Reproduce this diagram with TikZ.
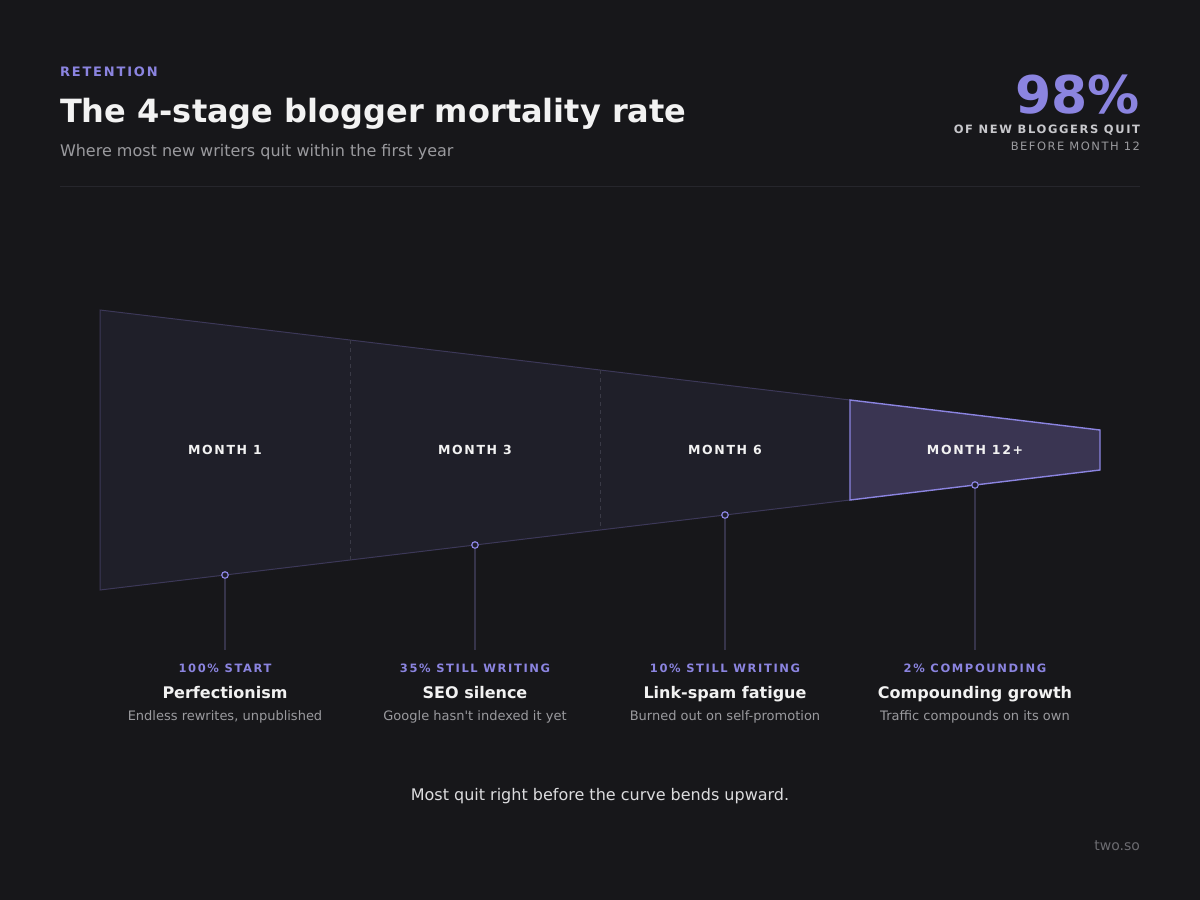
\documentclass[tikz,border=0pt]{standalone}
\usepackage{fontspec}
\setmainfont{DejaVu Sans}[Ligatures=TeXOff]
\newfontfamily\trk[LetterSpace=14,Ligatures=TeXOff]{DejaVu Sans}
\newfontfamily\trka[LetterSpace=14,Ligatures=TeXOff]{DejaVu Sans}
\newfontfamily\trkb[LetterSpace=13,Ligatures=TeXOff]{DejaVu Sans}
\newfontfamily\trkc[LetterSpace=14,Ligatures=TeXOff]{DejaVu Sans}
\newfontfamily\trkd[LetterSpace=13,Ligatures=TeXOff]{DejaVu Sans}
\definecolor{bg}{HTML}{17171A}
\definecolor{accent}{HTML}{8B84E0}
\definecolor{titlec}{HTML}{F2F2F2}
\definecolor{subc}{HTML}{9A9A9E}
\definecolor{lightc}{HTML}{C8C8CC}
\definecolor{rulec}{HTML}{26262C}
\definecolor{funfill}{HTML}{1F1F29}
\definecolor{funline}{HTML}{3C3858}
\definecolor{dashc}{HTML}{3A3A46}
\definecolor{lastfill}{HTML}{3A3552}
\definecolor{stemc}{HTML}{36344A}
\definecolor{capc}{HTML}{DCDCDE}
\definecolor{markc}{HTML}{6B6B70}
\newcommand\myfs[1]{\fontsize{#1}{#1}\selectfont}
\tikzset{
  txt/.style={inner sep=0pt, outer sep=0pt},
  monthlbl/.style={txt, anchor=base, text=titlec, font=\trkb\bfseries\myfs{12.5}},
  pctlbl/.style={txt, anchor=base, text=accent, font=\trka\bfseries\myfs{11.5}},
  stagettl/.style={txt, anchor=base, text=titlec, font=\bfseries\myfs{16}},
  stagesub/.style={txt, anchor=base, text=subc, font=\myfs{13}},
  dot/.style={circle, minimum size=6.5pt, inner sep=0pt, draw=accent, line width=1.2pt, fill=funfill},
  stem/.style={draw=stemc, line width=1.3pt},
  divider/.style={draw=dashc, line width=1pt, dash pattern=on 4pt off 4pt},
}
\begin{document}
\begin{tikzpicture}[x=1pt,y=-1pt]
\fill[bg] (0,0) rectangle (1200,900);
\useasboundingbox (0,0) rectangle (1200,900);

% header
\node[txt, anchor=base west, text=accent, font=\trk\bfseries\myfs{13}] (kicker) at (60,76) {RETENTION};
\node[txt, anchor=base west, text=titlec, font=\bfseries\myfs{32}] (title) at (60,122) {The 4-stage blogger mortality rate};
\node[txt, anchor=base west, text=subc, font=\myfs{16}] (subtitle) at (60,156) {Where most new writers quit within the first year};
\node[txt, anchor=base east, text=accent, font=\bfseries\myfs{52}] (pct) at (1140,113) {98\%};
\node[txt, anchor=base east, text=lightc, font=\trkc\bfseries\myfs{11.5}] (pcta) at (1140,133.3) {OF NEW BLOGGERS QUIT};
\node[txt, anchor=base east, text=subc, font=\trkd\myfs{11.5}] (pctb) at (1140,150.7) {BEFORE MONTH 12};
\coordinate (r0) at (60,186);
\coordinate (r1) at (1140,186);
\draw[rulec, line width=1pt] (r0) -- (r1);

% funnel
\coordinate (t0) at (100,310);
\coordinate (t1) at (350,340);
\coordinate (t2) at (600,370);
\coordinate (t3) at (850,400);
\coordinate (t4) at (1100,430);
\coordinate (b4) at (1100,470);
\coordinate (b3) at (850,500);
\coordinate (b2) at (600,530);
\coordinate (b1) at (350,560);
\coordinate (b0) at (100,590);
\fill[funfill] (t0) -- (t3) -- (b3) -- (b0) -- cycle;
\draw[funline, line width=1pt, line join=miter] (b3) -- (b0) -- (t0) -- (t3);
\draw[divider] (t1) -- (b1);
\draw[divider] (t2) -- (b2);
\filldraw[fill=lastfill, draw=accent, line width=1.4pt, line join=miter] (t3) -- (t4) -- (b4) -- (b3) -- cycle;

\node[monthlbl] (m1) at (225,454.3) {MONTH 1};
\node[monthlbl] (m2) at (475,454.3) {MONTH 3};
\node[monthlbl] (m3) at (725,454.3) {MONTH 6};
\node[monthlbl] (m4) at (975,454.3) {MONTH 12+};

% stems
\coordinate (e1) at (225,650);
\coordinate (e2) at (475,650);
\coordinate (e3) at (725,650);
\coordinate (e4) at (975,650);
\node[dot] (d1) at (225,575) {};
\node[dot] (d2) at (475,545) {};
\node[dot] (d3) at (725,515) {};
\node[dot] (d4) at (975,485) {};
\draw[stem] (d1) -- (e1);
\draw[stem] (d2) -- (e2);
\draw[stem] (d3) -- (e3);
\draw[stem] (d4) -- (e4);

% stage texts
\node[pctlbl] (p1) at (225,672.3) {100\% START};
\node[pctlbl] (p2) at (475,672.3) {35\% STILL WRITING};
\node[pctlbl] (p3) at (725,672.3) {10\% STILL WRITING};
\node[pctlbl] (p4) at (975,672.3) {2\% COMPOUNDING};
\node[stagettl] (s1) at (225,698) {Perfectionism};
\node[stagettl] (s2) at (475,698) {SEO silence};
\node[stagettl] (s3) at (725,698) {Link-spam fatigue};
\node[stagettl] (s4) at (975,698) {Compounding growth};
\node[stagesub] (u1) at (225,720) {Endless rewrites, unpublished};
\node[stagesub] (u2) at (475,720) {Google hasn't indexed it yet};
\node[stagesub] (u3) at (725,720) {Burned out on self-promotion};
\node[stagesub] (u4) at (975,720) {Traffic compounds on its own};

% footer
\node[txt, anchor=base, text=capc, font=\myfs{16}] (caption) at (600,800) {Most quit right before the curve bends upward.};
\node[txt, anchor=base east, text=markc, font=\myfs{14}] (brand) at (1140,850) {two.so};
\end{tikzpicture}
\end{document}
